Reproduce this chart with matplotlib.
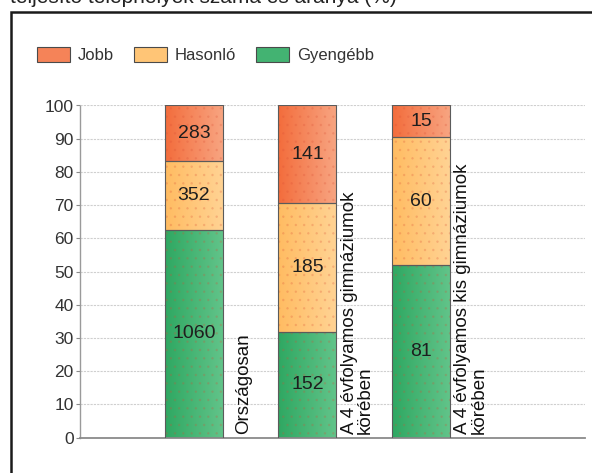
import matplotlib
matplotlib.use('Agg')
import matplotlib.pyplot as plt
import numpy as np
from matplotlib.colors import LinearSegmentedColormap
from matplotlib.patches import Rectangle

plt.rcParams['font.family'] = ['Liberation Sans', 'DejaVu Sans']
plt.rcParams['hatch.linewidth'] = 0.6

# ---------------- data ----------------
title = 'teljesítő telephelyek száma és aránya (%)'
categories = ['Országosan',
              'A 4 évfolyamos gimnáziumok\nkörében',
              'A 4 évfolyamos kis gimnáziumok\nkörében']
gyengebb = [1060, 152, 81]
hasonlo = [352, 185, 60]
jobb = [283, 141, 15]
yticks = list(range(0, 101, 10))
legend_order = ['Jobb', 'Hasonló', 'Gyengébb']

# ---------------- styles ----------------
W, H, DPI = 592, 473, 100
series = [
    ('Gyengébb', gyengebb, '#2fa862', '#62c48a'),
    ('Hasonló', hasonlo, '#ffbc62', '#ffd394'),
    ('Jobb', jobb, '#f36d3c', '#f8a582'),
]

totals = np.array(gyengebb) + np.array(hasonlo) + np.array(jobb)

fig = plt.figure(figsize=(W / DPI, H / DPI), dpi=DPI)
ax = fig.add_axes([80 / W, 1 - 437.7 / H, 505 / W, (437.7 - 105.5) / H])

x = np.arange(len(categories))
bw = 0.511
bottom = np.zeros(len(categories))
handles = {}
grad = np.linspace(0, 1, 64).reshape(1, -1)
for name, counts, cl, cr in series:
    pct = np.array(counts) / totals * 100
    mid = matplotlib.colors.to_hex(
        (np.array(matplotlib.colors.to_rgb(cl)) * 0.6 + np.array(matplotlib.colors.to_rgb(cr)) * 0.4))
    bars = ax.bar(x, pct, bw, bottom=bottom, color=cl, linewidth=0, zorder=2)
    cmap = LinearSegmentedColormap.from_list(name, [cl, cr])
    for rect in bars:
        x0, y0 = rect.get_x(), rect.get_y()
        ax.imshow(grad, extent=(x0, x0 + rect.get_width(), y0, y0 + rect.get_height()),
                  cmap=cmap, aspect='auto', zorder=2.2, interpolation='bilinear')
    # faint dotted texture
    ax.bar(x, pct, bw, bottom=bottom, facecolor='none',
           edgecolor=(0.85, 0.3, 0.2, 0.18), linewidth=0, hatch='..', zorder=2.4)
    # outlines
    ax.bar(x, pct, bw, bottom=bottom, fill=False, edgecolor='#5b5b5b',
           linewidth=0.8, zorder=3)
    ax.bar_label(bars, labels=[str(c) for c in counts], label_type='center',
                 fontsize=14, color='#1e1e1e', zorder=4)
    handles[name] = Rectangle((0, 0), 1, 1, facecolor=mid, edgecolor='#4a4a4a', linewidth=0.8)
    bottom = bottom + pct

ax.set_xlim(-1.004, 3.445)
ax.set_ylim(0, 100)
ax.set_yticks(yticks)
ax.set_xticks([])

for xi, cat in zip(x, categories):
    ax.annotate(cat, xy=(xi + bw / 2, 0), xytext=(15, 3), textcoords='offset points',
                rotation=90, ha='center', va='bottom', multialignment='left',
                fontsize=13.5, linespacing=0.95, color='#111111')

ax.yaxis.grid(True, color='#cfcfcf', linestyle=(0, (2, 1)), linewidth=0.8)
ax.set_axisbelow(True)
for s in ['top', 'right']:
    ax.spines[s].set_visible(False)
ax.spines['left'].set_color('#9a9a9a')
ax.spines['left'].set_linestyle((0, (1, 1)))
ax.spines['left'].set_linewidth(1.0)
ax.spines['bottom'].set_color('#8a8a8a')
ax.spines['bottom'].set_linewidth(1.3)
ax.tick_params(axis='y', length=3, color='#8a8a8a', labelsize=12.5,
               labelcolor='#333333', pad=1.5)

leg = fig.legend([handles[n] for n in legend_order], legend_order,
                 loc='center left', bbox_to_anchor=(37 / W, 1 - 55 / H),
                 ncol=3, frameon=False, fontsize=12, handlelength=2.0,
                 handleheight=1.0, handletextpad=0.45, columnspacing=1.2,
                 borderpad=0, borderaxespad=0)
for t in leg.get_texts():
    t.set_color('#333333')

# outer frame (extends past the image on right and bottom)
fig.patches.append(Rectangle((10.5 / W, -0.1), 1.2, (1 - 12 / H) + 0.1,
                             transform=fig.transFigure, fill=False,
                             edgecolor='#1a1a1a', linewidth=1.8))
# title line of the page, cut off at the top edge as in the source image
fig.text(10 / W, 1 - 3 / H, title, fontsize=15, va='baseline', ha='left',
         color='#222222')

fig.savefig('out.png', dpi=DPI)
